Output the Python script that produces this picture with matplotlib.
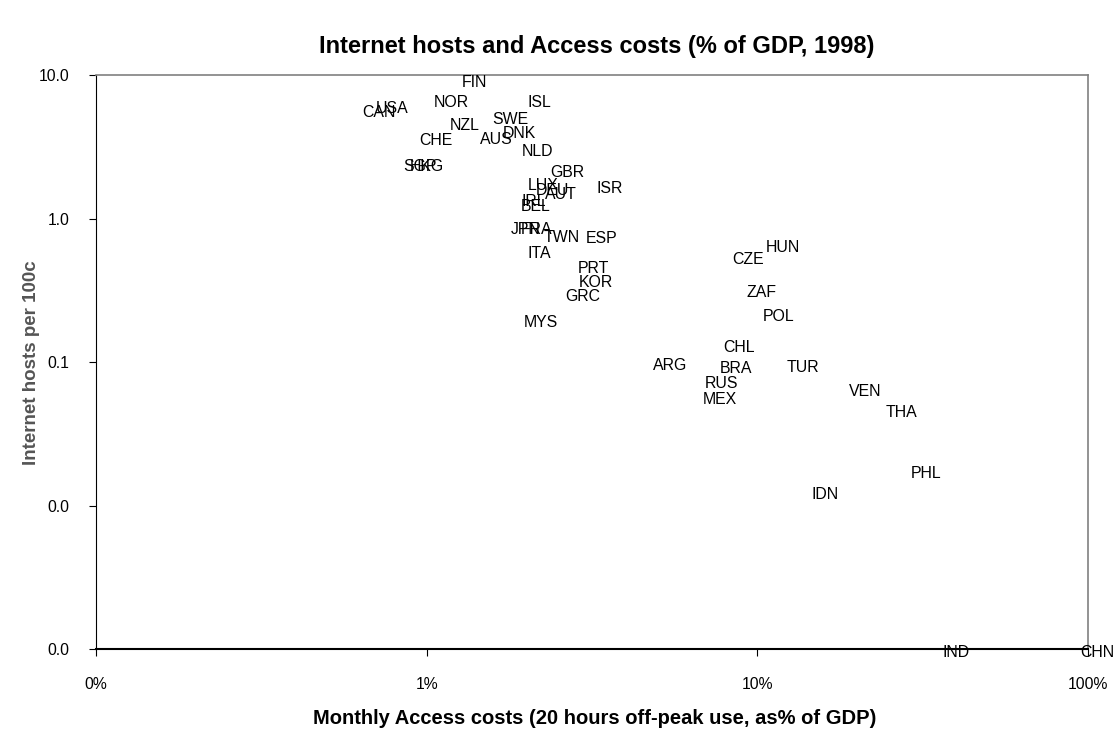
import numpy as np
import matplotlib
matplotlib.use("Agg")
import matplotlib.pyplot as plt
from matplotlib.ticker import FixedLocator, FuncFormatter, NullLocator

plt.rcParams['font.family'] = ['Liberation Sans', 'DejaVu Sans']

# country codes, monthly access cost (% of GDP) and internet hosts per 100 people
countries = ['FIN', 'NOR', 'ISL', 'USA', 'CAN', 'SWE', 'NZL', 'DNK', 'AUS', 'CHE',
             'NLD', 'SGP', 'HKG', 'GBR', 'ISR', 'LUX', 'DEU', 'AUT', 'IRL', 'BEL',
             'JPN', 'FRA', 'TWN', 'ESP', 'ITA', 'PRT', 'KOR', 'GRC', 'MYS', 'HUN',
             'CZE', 'ZAF', 'POL', 'CHL', 'ARG', 'BRA', 'TUR', 'RUS', 'MEX', 'VEN',
             'THA', 'PHL', 'IDN', 'IND', 'CHN']
access_cost = [1.28, 1.05, 2.02, 0.70, 0.64, 1.58, 1.17, 1.70, 1.45, 0.95,
               1.94, 0.85, 0.89, 2.36, 3.27, 2.02, 2.13, 2.28, 1.94, 1.93,
               1.80, 1.92, 2.25, 3.03, 2.02, 2.87, 2.89, 2.62, 1.96, 10.6,
               8.38, 9.24, 10.4, 7.87, 4.83, 7.71, 12.3, 6.94, 6.85, 18.9,
               24.5, 29.1, 14.6, 36.2, 94.5]
hosts = [8.84, 6.48, 6.48, 5.80, 5.44, 4.86, 4.48, 3.94, 3.58, 3.47,
         2.95, 2.29, 2.32, 2.08, 1.63, 1.71, 1.58, 1.48, 1.32, 1.22,
         0.832, 0.832, 0.743, 0.720, 0.566, 0.452, 0.361, 0.284, 0.190, 0.633,
         0.522, 0.303, 0.206, 0.127, 0.0953, 0.0908, 0.0923, 0.0714, 0.0552, 0.0628,
         0.0448, 0.0166, 0.0120, 0.00094, 0.00094]

x_ticks = [0.1, 1, 10, 100]
y_ticks = [0.001, 0.01, 0.1, 1, 10]

fig = plt.figure(figsize=(11.18, 7.32), dpi=100)
ax = fig.add_axes([0.0859, 0.1134, 0.8873, 0.7841])

ax.set_xscale('log')
ax.set_yscale('log')
ax.set_xlim(0.1, 100)
ax.set_ylim(0.001, 10)

# labels only, no markers (placed to the right of each point)
for c, xv, yv in zip(countries, access_cost, hosts):
    ax.text(xv, yv, c, ha='left', va='center', fontsize=11.4, color='black',
            clip_on=False)

ax.xaxis.set_major_locator(FixedLocator(x_ticks))
ax.yaxis.set_major_locator(FixedLocator(y_ticks))
ax.xaxis.set_minor_locator(NullLocator())
ax.yaxis.set_minor_locator(NullLocator())
ax.xaxis.set_major_formatter(FuncFormatter(lambda v, p: f"{v:.0f}%"))
ax.yaxis.set_major_formatter(FuncFormatter(lambda v, p: f"{v:.1f}"))
ax.tick_params(axis='x', direction='out', length=5, pad=15, labelsize=11.3)
ax.tick_params(axis='y', direction='out', length=5, pad=14, labelsize=11.3)

for s in ['top', 'right']:
    ax.spines[s].set_color('#808080')
    ax.spines[s].set_linewidth(1.2)
ax.spines['left'].set_color('black')
ax.spines['bottom'].set_color('black')
ax.spines['bottom'].set_linewidth(1.5)

fig.text(0.534, 0.936, 'Internet hosts and Access costs (% of GDP, 1998)',
         ha='center', va='center', fontsize=17, fontweight='bold')
fig.text(0.532, 0.019, 'Monthly Access costs (20 hours off-peak use, as% of GDP)',
         ha='center', va='center', fontsize=14.5, fontweight='bold')
fig.text(0.028, 0.505, 'Internet hosts per 100c', rotation=90,
         ha='center', va='center', fontsize=13.5, fontweight='bold', color='#555555')

fig.savefig('out.png', dpi=100)
